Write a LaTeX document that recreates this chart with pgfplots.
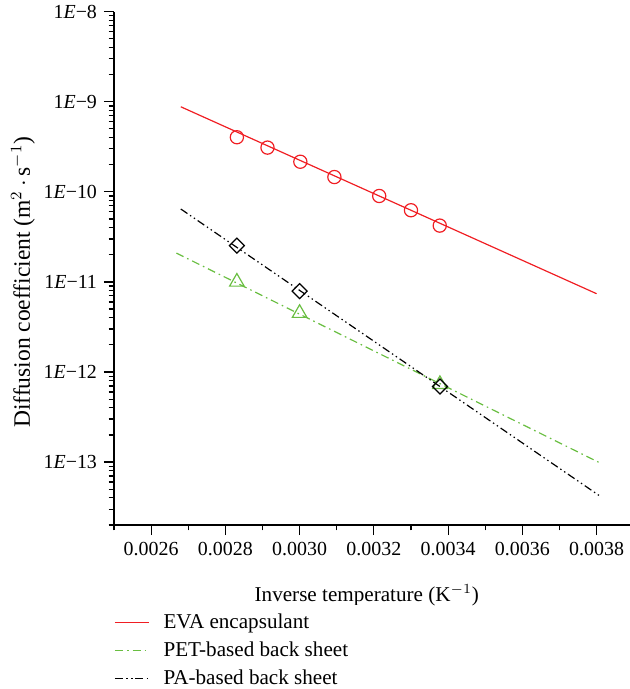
\documentclass[border=0pt]{standalone}
\usepackage{fontspec}
\setmainfont{Liberation Serif}
\usepackage{pgfplots}
\pgfplotsset{compat=1.18}
\definecolor{evared}{RGB}{240,30,35}
\definecolor{petgreen}{RGB}{105,190,65}
\begin{document}
\begin{tikzpicture}
\path[use as bounding box] (-57bp,-82bp) rectangle (258bp,262.5bp);
\begin{axis}[
  at={(0,0)}, anchor=south west,
  scale only axis, width=258bp, height=256.65bp,
  xmin=0.0025, xmax=0.00389,
  ymode=log, ymin=2e-14, ymax=1e-8,
  axis x line*=bottom, axis y line*=left,
  axis line style={line width=0.6pt},
  tick align=outside, major tick length=5bp, minor tick length=2.7bp,
  every tick/.style={line width=0.6pt, black},
  scaled x ticks=false,
  xtick={0.0026,0.0028,0.0030,0.0032,0.0034,0.0036,0.0038},
  xticklabels={0.0026,0.0028,0.0030,0.0032,0.0034,0.0036,0.0038},
  minor xtick={0.0025,0.0027,0.0029,0.0031,0.0033,0.0035,0.0037},
  ytick={1e-13,1e-12,1e-11,1e-10,1e-9,1e-8},
  yticklabels={1\textit{E}−13,1\textit{E}−12,1\textit{E}−11,1\textit{E}−10,1\textit{E}−9,1\textit{E}−8},
  minor ytick={2e-14,3e-14,4e-14,5e-14,6e-14,7e-14,8e-14,9e-14,
    2e-13,3e-13,4e-13,5e-13,6e-13,7e-13,8e-13,9e-13,
    2e-12,3e-12,4e-12,5e-12,6e-12,7e-12,8e-12,9e-12,
    2e-11,3e-11,4e-11,5e-11,6e-11,7e-11,8e-11,9e-11,
    2e-10,3e-10,4e-10,5e-10,6e-10,7e-10,8e-10,9e-10,
    2e-9,3e-9,4e-9,5e-9,6e-9,7e-9,8e-9,9e-9},
  ticklabel style={font=\fontsize{10}{12}\selectfont},
  xlabel={Inverse temperature (K$^{-1}$)},
  ylabel={Diffusion coefficient (m$^{2}$\,$\cdot$\,s$^{-1}$)},
  xlabel style={font=\fontsize{10.6}{12}\selectfont, at={(axis description cs:0.49,0)}, anchor=center, yshift=-35bp},
  ylabel style={font=\fontsize{11.8}{13}\selectfont, at={([xshift=-45.5bp]axis description cs:0,0.473)}, anchor=center},
  legend style={at={(0,0)}, anchor=north west, xshift=-3bp, yshift=-40bp,
    draw=white, fill=white, font=\fontsize{10.6}{12}\selectfont, row sep=1.2pt, column sep=5bp},
  legend cell align=left,
  clip=false,
]
\addplot[color=evared, line width=0.6pt] coordinates {(0.00268,8.8e-10) (0.0038,7.4e-12)};
\addlegendentry{EVA encapsulant}
\addplot[color=petgreen, line width=0.6pt, dash pattern=on 4bp off 2bp on 0.8bp off 2bp] coordinates {(0.002668,2.09e-11) (0.003811,9.7e-14)};
\addlegendentry{PET-based back sheet}
\addplot[color=black, line width=0.6pt, dash pattern=on 4bp off 1.6bp on 0.7bp off 1.6bp on 0.7bp off 1.6bp] coordinates {(0.00268,6.45e-11) (0.003811,4.14e-14)};
\addlegendentry{PA-based back sheet}
\addplot[only marks, forget plot, mark=o, mark size=3.3bp, mark options={evared, line width=0.6pt}] coordinates {
  (0.002831,4.04e-10) (0.0029135,3.10e-10) (0.0030019,2.16e-10) (0.0030937,1.46e-10)
  (0.0032144,9.0e-11) (0.0033,6.25e-11) (0.0033775,4.22e-11)};
\addplot[only marks, forget plot, mark=triangle, mark size=4.2bp, mark options={petgreen, line width=0.6pt}] coordinates {
  (0.002831,1.0e-11) (0.0030,4.5e-12) (0.003378,7.3e-13)};
\addplot[only marks, forget plot, mark=square, mark size=2.65bp, mark options={draw=black, fill=white, rotate=45, line width=0.6pt}] coordinates {
  (0.002831,2.53e-11) (0.0030,7.9e-12) (0.003378,6.9e-13)};
\end{axis}
\end{tikzpicture}
\end{document}
